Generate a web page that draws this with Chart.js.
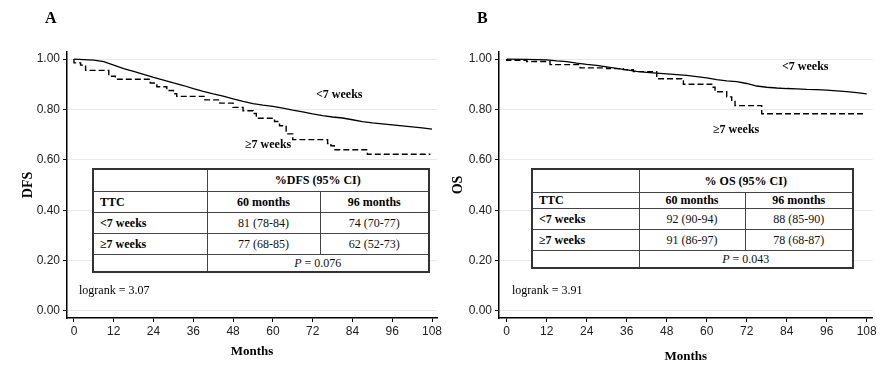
<!DOCTYPE html>
<html>
<head>
<meta charset="utf-8">
<script src="https://cdn.jsdelivr.net/npm/chart.js@4.4.1/dist/chart.umd.min.js"></script>
<style>
  html, body { margin: 0; padding: 0; background: #fff; }
  #page { position: relative; width: 890px; height: 367px; overflow: hidden;
          font-family: "Liberation Serif", "Times New Roman", serif; color: #000; }
  .panel { position: absolute; top: 0; width: 445px; height: 367px; }
  .panel canvas { position: absolute; left: 0; top: 0; }
  .tag { position: absolute; top: 9px; font-weight: bold; font-size: 16px; line-height: 18px; }
  .lbl { position: absolute; font-weight: bold; font-size: 12px; line-height: 14px; white-space: nowrap; }
  .logrank { position: absolute; font-size: 12px; line-height: 14px; white-space: nowrap; }
  table.ci { position: absolute; top: 168px; border-collapse: collapse; table-layout: fixed;
             background: #fff; font-size: 12px; line-height: 14px; border: 2px solid #333; }
  table.ci td { border: 1.5px solid #444; padding: 0; text-align: center; vertical-align: middle;
                white-space: nowrap; color: #111; }
  table.ci td.first { text-align: left; padding-left: 6px; font-weight: bold; color: #000; }
  table.ci td.head { font-weight: bold; color: #000; }
</style>
</head>
<body>
<div id="page">
  <div class="panel" id="panelA" style="left:0px;">
    <canvas id="chartA" width="445" height="367"></canvas>
    <div class="tag" style="left:45px;">A</div>
  </div>
  <div class="panel" id="panelB" style="left:445px;">
    <canvas id="chartB" width="445" height="367"></canvas>
    <div class="tag" style="left:32px;">B</div>
  </div>
</div>
<script>
// axes
const xTicks = [0, 12, 24, 36, 48, 60, 72, 84, 96, 108];
const yTicks = [0, 0.2, 0.4, 0.6, 0.8, 1.0];
const yTickLabels = ['0.00', '0.20', '0.40', '0.60', '0.80', '1.00'];

// A: DFS, <7 weeks
const dfsShortMonths = [0, 6, 9, 12, 15, 18, 21, 24, 27, 30, 33, 36, 39, 42, 45, 48, 51, 54, 57, 60,
  63, 66, 69, 72, 75, 78, 81, 84, 87, 90, 93, 96, 99, 102, 105, 108];
const dfsShortSurv = [1.0, 0.996, 0.99, 0.976, 0.962, 0.951, 0.939, 0.927, 0.916, 0.905, 0.895, 0.883,
  0.872, 0.862, 0.853, 0.842, 0.832, 0.823, 0.817, 0.812, 0.805, 0.797, 0.79, 0.782, 0.775, 0.77,
  0.766, 0.759, 0.752, 0.747, 0.743, 0.739, 0.735, 0.731, 0.727, 0.722];
// A: DFS, >=7 weeks
const dfsLongMonths = [0, 2, 3.5, 10.5, 12.5, 23, 25, 28, 30, 31, 39.5, 44, 48, 51, 54, 55, 60.5, 62,
  64, 66, 76.5, 77.5, 78.5, 88.5, 91.5, 107.5];
const dfsLongSurv = [1.0, 0.985, 0.976, 0.955, 0.932, 0.92, 0.905, 0.89, 0.875, 0.862, 0.852, 0.838,
  0.825, 0.808, 0.795, 0.784, 0.765, 0.752, 0.735, 0.703, 0.68, 0.665, 0.656, 0.64, 0.622, 0.622];

// B: OS, <7 weeks
const osShortMonths = [0, 6, 12, 15, 18, 21, 24, 27, 30, 33, 36, 39, 42, 45, 48, 51, 54, 57, 60, 63,
  66, 69, 72, 75, 78, 81, 84, 87, 90, 93, 96, 99, 102, 105, 108];
const osShortSurv = [1.0, 0.999, 0.997, 0.993, 0.99, 0.984, 0.979, 0.975, 0.969, 0.963, 0.957, 0.951,
  0.947, 0.944, 0.941, 0.938, 0.935, 0.93, 0.925, 0.918, 0.913, 0.91, 0.903, 0.893, 0.888, 0.885,
  0.883, 0.882, 0.88, 0.879, 0.877, 0.874, 0.871, 0.867, 0.862];
// B: OS, >=7 weeks
const osLongMonths = [0, 6, 13, 22, 30, 35, 38, 45, 52.5, 53, 61.5, 62.5, 66, 67.5, 68.5, 76.5, 87.5, 107];
const osLongSurv = [1.0, 0.995, 0.99, 0.978, 0.965, 0.962, 0.958, 0.95, 0.922, 0.913, 0.9, 0.888,
  0.87, 0.85, 0.836, 0.815, 0.783, 0.783];

// tables
const tableCols = ['TTC', '60 months', '96 months'];
const groupNames = ['<7 weeks', '≥7 weeks'];
const dfsAt60 = ['81 (78-84)', '77 (68-85)'];
const dfsAt96 = ['74 (70-77)', '62 (52-73)'];
const osAt60 = ['92 (90-94)', '91 (86-97)'];
const osAt96 = ['88 (85-90)', '78 (68-87)'];
const dfsP = '0.076', osP = '0.043';
const dfsLogrank = '3.07', osLogrank = '3.91';

function pts(xs, ys) { return xs.map((x, i) => ({ x, y: ys[i] })); }

function makeChart(id, cfg) {
  const tickFont = { family: 'Liberation Sans, Arial, sans-serif', size: 12 };
  return new Chart(document.getElementById(id), {
    type: 'line',
    data: {
      datasets: [
        { data: pts(cfg.shortX, cfg.shortY), borderColor: '#000', borderWidth: 1.3,
          pointRadius: 0, fill: false, tension: 0 },
        { data: pts(cfg.longX, cfg.longY), borderColor: '#000', borderWidth: 1.4,
          borderDash: [6, 3], pointRadius: 0, fill: false, stepped: 'after' },
      ],
    },
    options: {
      responsive: false, animation: false, devicePixelRatio: 1,
      layout: { padding: { left: 0, right: cfg.padRight, top: 52, bottom: 0 } },
      plugins: { legend: { display: false }, tooltip: { enabled: false } },
      scales: {
        x: {
          type: 'linear', min: cfg.xMin, max: cfg.xMax,
          afterBuildTicks: s => { s.ticks = xTicks.map(v => ({ value: v })); },
          afterFit: s => { s.height = 49; },
          ticks: { callback: (v, i) => String(xTicks[i]), color: '#222', font: tickFont, padding: 2, maxRotation: 0 },
          grid: { drawOnChartArea: false, tickColor: '#000', tickLength: 4 },
          border: { color: '#000', width: 1.5 },
          title: { display: true, text: 'Months', color: '#000',
                   font: { family: 'Liberation Serif, Times New Roman, serif', size: 13, weight: 'bold' },
                   padding: { top: 0, bottom: cfg.monthsPad } },
        },
        y: {
          type: 'linear', min: -0.028, max: 1.028,
          afterBuildTicks: s => { s.ticks = yTicks.map(v => ({ value: v })); },
          afterFit: s => { s.width = cfg.yWidth; },
          ticks: { callback: (v, i) => yTickLabels[i], color: '#222', font: tickFont, padding: 3 },
          grid: { color: '#e8e8e8', lineWidth: 1, tickColor: '#000', tickLength: 4 },
          border: { color: '#000', width: 1.5 },
          title: { display: true, text: cfg.yTitle, color: '#000',
                   font: { family: 'Liberation Serif, Times New Roman, serif', size: 14, weight: 'bold' },
                   padding: { top: cfg.yTitlePad, bottom: 0 } },
        },
      },
    },
  });
}

function addTable(panelId, t) {
  const panel = document.getElementById(panelId);
  const tbl = document.createElement('table');
  tbl.className = 'ci';
  tbl.style.left = t.left + 'px';
  let html = '<colgroup>' + t.cols.map(w => `<col style="width:${w}px">`).join('') + '</colgroup>';
  html += `<tr style="height:${t.rows[0]}px"><td></td><td colspan="2" class="head">${t.header}</td></tr>`;
  html += `<tr style="height:${t.rows[1]}px">` + tableCols.map((c, i) =>
    `<td class="${i === 0 ? 'first' : 'head'}">${c}</td>`).join('') + '</tr>';
  groupNames.forEach((g, k) => {
    html += `<tr style="height:${t.rows[2 + k]}px"><td class="first">${g.replace('<', '&lt;')}</td>` +
      `<td>${t.at60[k]}</td><td>${t.at96[k]}</td></tr>`;
  });
  html += `<tr style="height:${t.rows[4]}px"><td></td><td colspan="2"><i>P</i> = ${t.p}</td></tr>`;
  tbl.innerHTML = html;
  panel.appendChild(tbl);
}

function addText(panelId, cls, text, left, top) {
  const d = document.createElement('div');
  d.className = cls;
  d.textContent = text;
  d.style.left = left + 'px';
  d.style.top = top + 'px';
  document.getElementById(panelId).appendChild(d);
}

makeChart('chartA', {
  shortX: dfsShortMonths, shortY: dfsShortSurv, longX: dfsLongMonths, longY: dfsLongSurv,
  xMin: -2.1, xMax: 109.5, padRight: 8, yWidth: 67, yTitle: 'DFS', yTitlePad: 20, monthsPad: 8,
});
makeChart('chartB', {
  shortX: osShortMonths, shortY: osShortSurv, longX: osLongMonths, longY: osLongSurv,
  xMin: -2.31, xMax: 109.8, padRight: 17.3, yWidth: 54, yTitle: 'OS', yTitlePad: 5, monthsPad: 3,
});

addTable('panelA', { left: 92, cols: [114, 113, 109], rows: [22, 21, 21, 21, 18],
  header: '%DFS (95% CI)', at60: dfsAt60, at96: dfsAt96, p: dfsP });
addTable('panelB', { left: 86, cols: [107, 106, 108], rows: [23, 16, 21, 21, 18],
  header: '% OS (95% CI)', at60: osAt60, at96: osAt96, p: osP });

addText('panelA', 'lbl', groupNames[0], 316, 87);
addText('panelA', 'lbl', groupNames[1], 245, 137);
addText('panelB', 'lbl', groupNames[0], 337, 59);
addText('panelB', 'lbl', groupNames[1], 268, 122);
addText('panelA', 'logrank', 'logrank = ' + dfsLogrank, 79, 283);
addText('panelB', 'logrank', 'logrank = ' + osLogrank, 67, 283);
</script>
</body>
</html>
